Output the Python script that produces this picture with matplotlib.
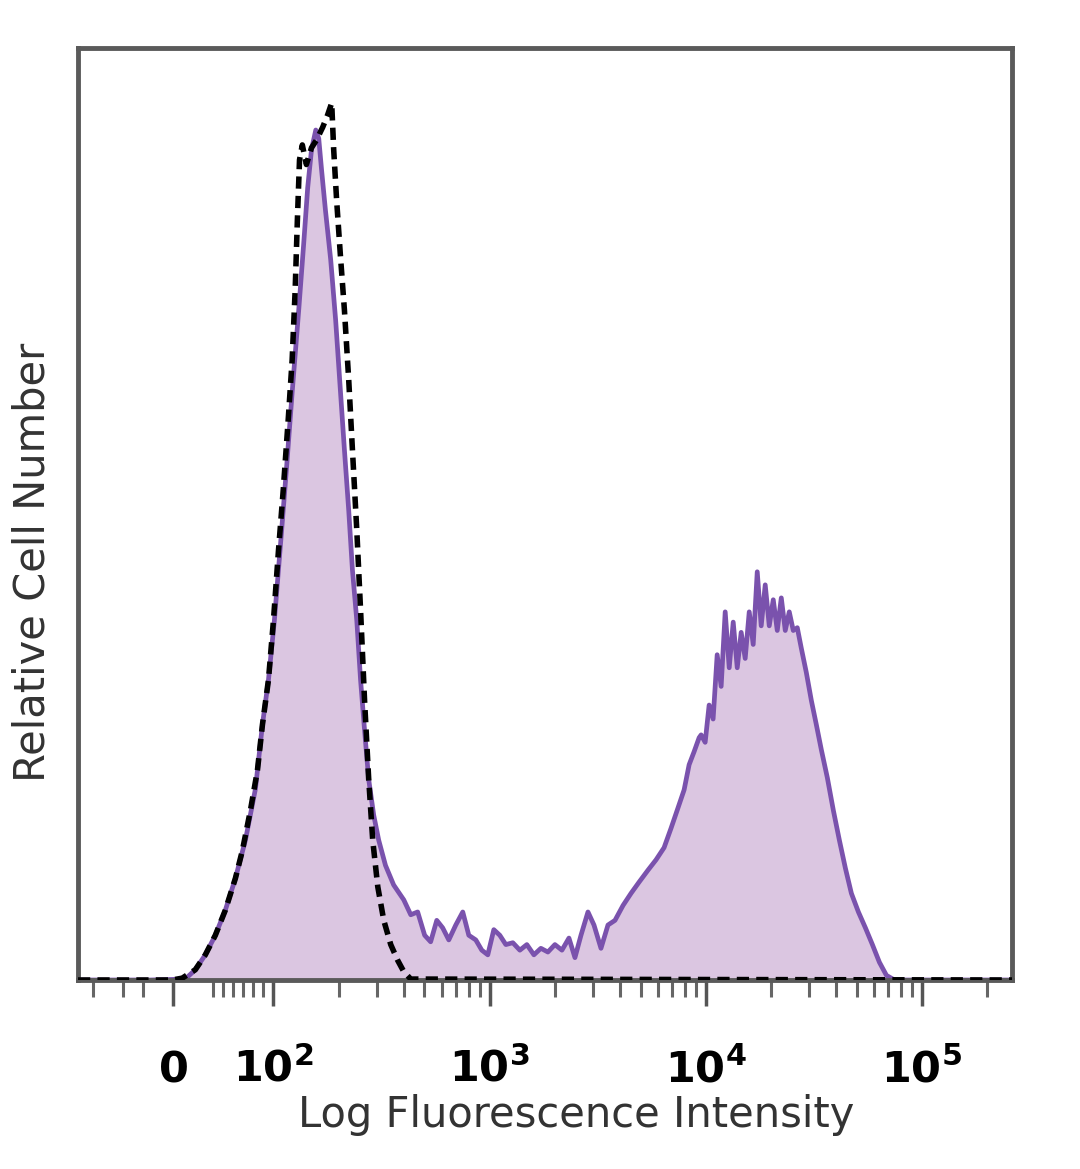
import matplotlib
matplotlib.use('Agg')
import matplotlib.pyplot as plt
import matplotlib.transforms as mtransforms

# stained sample (purple, filled) - fluorescence value / relative count (% of axis height)
stain_x = [-95, -23, 12, 22, 32, 42, 52, 62, 72, 82, 89, 95, 101, 108, 115, 122, 131, 138,
           144, 150, 157, 162, 167, 174, 184, 194, 204, 213, 223, 232, 243, 253, 264, 276,
           291, 307, 330, 360, 401, 432, 465, 501, 534, 570, 607, 648, 698, 752, 802, 864,
           921, 982, 1047, 1116, 1190, 1282, 1382, 1489, 1605, 1729, 1863, 2008, 2164, 2332,
           2486, 2651, 2856, 3045, 3281, 3535, 3809, 4150, 4519, 4923, 5420, 5902, 6427,
           6927, 7464, 7958, 8395, 8853, 9339,
           9540, 9960, 10390, 10840, 11320, 11810, 12330, 12870, 13430, 14020, 14620,
           15260, 15930, 16620, 17350, 18100, 18890, 19720, 20580, 21480, 22420, 23390,
           24410, 25470, 26590, 27750,
           29270, 30880, 32570, 34360, 36630, 39050, 41640, 44390, 47320, 51000, 54950,
           59200, 63800, 68760, 74890, 262144]
stain_y = [0, 0, 0.1, 1.1, 2.7, 4.8, 7.5, 10.9, 15.0, 20.5, 27.4, 32.2, 38.6, 47.0,
           55.0, 63.0, 72.0, 79.0, 85.0, 89.1, 91.2, 90.3, 86.9, 82.6, 77.3, 70.8, 63.3, 56.9,
           50.4, 44.0, 38.6, 32.2, 26.8, 21.5, 17.7, 15.0, 12.3, 10.2, 8.6, 7.0, 7.3, 4.8, 4.1,
           6.4, 5.6, 4.3, 5.9, 7.3, 4.8, 4.3, 3.2, 2.7, 5.4, 4.8, 3.8, 4.0, 3.2, 3.8, 2.7, 3.4,
           3.0, 3.8, 3.2, 4.5, 2.4, 4.8, 7.3, 5.9, 3.4, 5.9, 6.4, 8.0, 9.3, 10.5, 11.8, 12.9,
           14.2, 16.3, 18.5, 20.4, 23.1, 24.5, 26.0,
           26.3, 25.5, 29.5, 28.0, 34.9, 31.5, 39.5, 33.5, 38.4, 33.5, 37.3, 34.5, 39.5,
           36.0, 43.8, 38.0, 42.4, 38.0, 40.8, 37.5, 41.0, 37.5, 39.5, 37.5, 37.8, 35.6,
           33.0, 30.0, 27.4, 24.7, 21.7, 18.2, 15.0, 12.0, 9.3, 7.3, 5.6, 3.8, 1.9, 0.5, 0, 0]

# isotype control (black dashed)
iso_x = [-95, -1, 9, 22, 32, 42, 52, 62, 69, 77, 84, 89, 95, 100, 105.5, 111, 117, 122, 126,
         129, 132, 136, 142, 150, 158, 169, 178, 186, 190, 196, 204, 213, 223, 232, 243, 253,
         264, 276, 288, 304, 324, 349, 376, 401, 432, 262144]
iso_y = [0, 0, 0.2, 1.1, 2.7, 4.8, 7.5, 10.9, 13.9, 18.2, 22.5, 27.4, 32.2, 38.6, 46.1, 52.6,
         60.1, 66.5, 74.0, 81.5, 88.0, 89.6, 87.5, 89.3, 90.1, 91.5, 92.8, 94.1, 89.1, 83.7,
         77.8, 71.9, 64.4, 56.9, 48.3, 39.7, 30.0, 21.5, 15.0, 10.0, 6.4, 3.8, 2.1, 0.9, 0.1, 0]

major_ticks = [0, 100, 1000, 10000, 100000]
major_labels = [r'$\mathbf{0}$', r'$\mathbf{10^{2}}$', r'$\mathbf{10^{3}}$',
                r'$\mathbf{10^{4}}$', r'$\mathbf{10^{5}}$']
minor_ticks = [-80, -50, -30, 40, 50, 60, 70, 80, 90,
               200, 300, 400, 500, 600, 700, 800, 900,
               2000, 3000, 4000, 5000, 6000, 7000, 8000, 9000,
               20000, 30000, 40000, 50000, 60000, 70000, 80000, 90000, 200000]

plt.rcParams['mathtext.fontset'] = 'dejavusans'

fig = plt.figure(figsize=(10.8, 11.69), dpi=100)
ax = fig.add_axes([78 / 1080, 1 - 980 / 1169, 934 / 1080, 932 / 1169])

ax.fill_between(stain_x, stain_y, color='#dbc6e1', lw=0, zorder=1)
ax.plot(stain_x, stain_y, color='#7a52ad', lw=3.4, zorder=2)
ax.plot(iso_x, iso_y, color='black', lw=4, dashes=(2.2, 1.3), zorder=3)

ax.set_xscale('symlog', linthresh=100, linscale=0.4176, base=10)
ax.set_xlim(-95, 262144)
ax.set_ylim(0, 100)

ax.set_xticks(major_ticks)
ax.set_xticks(minor_ticks, minor=True)
ax.set_xticklabels([])
ax.set_xticklabels([], minor=True)
ax.set_yticks([])
ax.tick_params(axis='x', which='major', direction='out', length=19, width=2.5, color='#555555')
ax.tick_params(axis='x', which='minor', direction='out', length=12, width=2.2, color='#666666')

for sp in ax.spines.values():
    sp.set_color('#5a5a5a')
    sp.set_linewidth(3.5)

# tick labels on a common baseline
trans = mtransforms.blended_transform_factory(ax.transData, ax.transAxes)
for v, s in zip(major_ticks, major_labels):
    ax.text(v, -(1082 - 980) / 932, s, transform=trans, ha='center', va='baseline',
            fontsize=31, color='black', clip_on=False)

fig.text(576 / 1080, 1 - 1127 / 1169, 'Log Fluorescence Intensity', ha='center',
         va='baseline', fontsize=30, color='#333333')
fig.text(33 / 1080, 1 - 562 / 1169, 'Relative Cell Number', ha='center', va='center',
         rotation=90, fontsize=30, color='#333333')

fig.savefig('out.png', dpi=100)
